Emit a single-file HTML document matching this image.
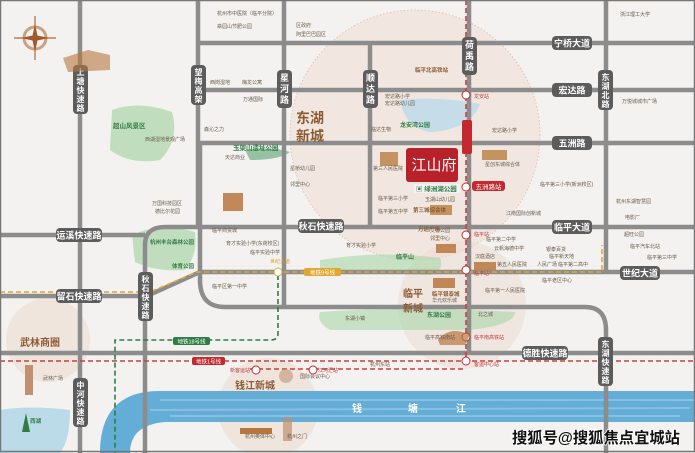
<!DOCTYPE html>
<html><head><meta charset="utf-8"><style>
html,body{margin:0;padding:0;background:#f3f2f0}
svg{display:block}
text{font-family:"Liberation Sans","Noto Sans CJK SC",sans-serif}
.rl{fill:#fff;font-size:9px;font-weight:bold}
.vl{fill:#fff;font-size:8px;font-weight:bold}
.poi{fill:#6a5a4a;font-size:5px}
.red{fill:#c23a3a;font-size:5px}
</style></head><body>
<svg width="695" height="453" viewBox="0 0 695 453" xmlns="http://www.w3.org/2000/svg">
<rect x="0" y="0" width="695" height="453" fill="#f3f2f0"/>
<circle cx="415" cy="135" r="125" fill="#efd9cc" fill-opacity="0.45" stroke="#e6b9a0" stroke-dasharray="1.5 2" stroke-width="0.8"/>
<circle cx="462" cy="305" r="64" fill="#eedad0" fill-opacity="0.5"/>
<circle cx="48" cy="340" r="42" fill="#ecdcd0" fill-opacity="0.6"/>
<circle cx="268" cy="408" r="50" fill="#ecdcd0" fill-opacity="0.6"/>
<path d="M112 110 Q140 100 172 112 Q180 140 160 160 Q130 165 110 150 Z" fill="#a9d6a7" opacity="0.7"/>
<path d="M132 235 Q160 222 195 232 Q198 255 185 270 Q155 272 135 262 Z" fill="#a9d6a7" opacity="0.7"/>
<path d="M320 260 Q380 250 440 258 Q445 270 430 275 L320 272 Z" fill="#a9d6a7" opacity="0.6"/>
<path d="M320 312 Q400 306 515 312 Q515 325 470 330 L330 330 Q316 322 320 312Z" fill="#a9d6a7" opacity="0.6"/>
<path d="M245 150 Q270 146 290 152 Q280 160 250 160 Z" fill="#5aa070" opacity="0.6"/>
<path d="M400 100 Q440 96 480 104 Q470 130 430 132 Q405 128 400 100 Z" fill="#bcd9ea" opacity="0.8"/>
<path d="M0 410 Q30 405 70 410 Q70 440 60 453 L0 453 Z" fill="#bcdbe9"/>
<path d="M100 453 Q100 391 160 391 L695 391 L695 422 L165 422 Q130 425 130 453 Z" fill="#63add6"/>
<path d="M160 400 L695 400 M150 410 L690 408 M170 416 L680 416" stroke="#9fcde8" stroke-width="2" opacity="0.6"/>
<g stroke="#8c8c8c" stroke-width="4.5" fill="none">
<path d="M80 0 V453"/>
<path d="M198 0 V225"/>
<path d="M284 0 V307"/>
<path d="M370 42 V227"/>
<path d="M469 0 V353"/>
<path d="M606 0 V273"/>
<path d="M198 43 H695 M198 90 H695 M198 143 H695"/>
<path d="M145 453 V245 Q145 227 165 227 H695"/>
<path d="M0 235 H145 M0 296 H145"/>
<path d="M147 296 L200 272 H695"/>
<path d="M200 145 V280 Q200 307 225 307 H585 Q606 307 606 330 V453"/>
<path d="M0 353 H695"/>
</g>
<g fill="none" stroke-width="1.6">
<path d="M466 0 V365" stroke="#c94040" stroke-dasharray="5 3"/>
<path d="M0 361 H695" stroke="#c94040" stroke-dasharray="5 3"/>
<path d="M250 369 H466" stroke="#c94040" stroke-dasharray="5 3"/>
<path d="M0 292 H150 L197 272 H602 V245" stroke="#e0a830" stroke-dasharray="5 3"/>
<path d="M278 275 V334 Q278 340 270 340 H115 V453" stroke="#2f7d45" stroke-dasharray="5 3"/>
</g>
<g>
<rect x="73" y="65" width="15" height="49" rx="4" fill="#5c5c5c"/><text class="vl" x="80.5" y="75" text-anchor="middle">上</text><text class="vl" x="80.5" y="84" text-anchor="middle">塘</text><text class="vl" x="80.5" y="93" text-anchor="middle">快</text><text class="vl" x="80.5" y="102" text-anchor="middle">速</text><text class="vl" x="80.5" y="111" text-anchor="middle">路</text>
<rect x="191" y="65" width="15" height="40" rx="4" fill="#5c5c5c"/><text class="vl" x="198.5" y="75" text-anchor="middle">望</text><text class="vl" x="198.5" y="84" text-anchor="middle">梅</text><text class="vl" x="198.5" y="93" text-anchor="middle">高</text><text class="vl" x="198.5" y="102" text-anchor="middle">架</text>
<rect x="277" y="70" width="15" height="38" rx="4" fill="#5c5c5c"/><text class="rl" x="284.5" y="81" text-anchor="middle">星</text><text class="rl" x="284.5" y="92" text-anchor="middle">河</text><text class="rl" x="284.5" y="103" text-anchor="middle">路</text>
<rect x="363" y="70" width="15" height="38" rx="4" fill="#5c5c5c"/><text class="rl" x="370.5" y="81" text-anchor="middle">顺</text><text class="rl" x="370.5" y="92" text-anchor="middle">达</text><text class="rl" x="370.5" y="103" text-anchor="middle">路</text>
<rect x="462" y="37" width="15" height="38" rx="4" fill="#5c5c5c"/><text class="rl" x="469.5" y="48" text-anchor="middle">荷</text><text class="rl" x="469.5" y="59" text-anchor="middle">禹</text><text class="rl" x="469.5" y="70" text-anchor="middle">路</text>
<rect x="598" y="70" width="15" height="40" rx="4" fill="#5c5c5c"/><text class="vl" x="605.5" y="80" text-anchor="middle">东</text><text class="vl" x="605.5" y="89" text-anchor="middle">湖</text><text class="vl" x="605.5" y="98" text-anchor="middle">北</text><text class="vl" x="605.5" y="107" text-anchor="middle">路</text>
<rect x="552" y="36" width="40" height="14" rx="4" fill="#5c5c5c"/><text class="rl" x="572" y="46.5" text-anchor="middle">宁桥大道</text>
<rect x="552" y="83" width="40" height="14" rx="4" fill="#5c5c5c"/><text class="rl" x="572" y="93.5" text-anchor="middle">宏达路</text>
<rect x="552" y="136" width="40" height="14" rx="4" fill="#5c5c5c"/><text class="rl" x="572" y="146.5" text-anchor="middle">五洲路</text>
<rect x="552" y="220" width="40" height="14" rx="4" fill="#5c5c5c"/><text class="rl" x="572" y="230.5" text-anchor="middle">临平大道</text>
<rect x="620" y="266" width="40" height="14" rx="4" fill="#5c5c5c"/><text class="rl" x="640" y="276.5" text-anchor="middle">世纪大道</text>
<rect x="522" y="346" width="46" height="14" rx="4" fill="#5c5c5c"/><text class="rl" x="545" y="356.5" text-anchor="middle">德胜快速路</text>
<rect x="598" y="337" width="15" height="49" rx="4" fill="#5c5c5c"/><text class="vl" x="605.5" y="347" text-anchor="middle">东</text><text class="vl" x="605.5" y="356" text-anchor="middle">湖</text><text class="vl" x="605.5" y="365" text-anchor="middle">快</text><text class="vl" x="605.5" y="374" text-anchor="middle">速</text><text class="vl" x="605.5" y="383" text-anchor="middle">路</text>
<rect x="298" y="219" width="46" height="14" rx="4" fill="#5c5c5c"/><text class="rl" x="321" y="229.5" text-anchor="middle">秋石快速路</text>
<rect x="56" y="228" width="46" height="14" rx="4" fill="#5c5c5c"/><text class="rl" x="79" y="238.5" text-anchor="middle">运溪快速路</text>
<rect x="56" y="289" width="46" height="14" rx="4" fill="#5c5c5c"/><text class="rl" x="79" y="299.5" text-anchor="middle">留石快速路</text>
<rect x="138" y="272" width="15" height="49" rx="4" fill="#5c5c5c"/><text class="vl" x="145.5" y="282" text-anchor="middle">秋</text><text class="vl" x="145.5" y="291" text-anchor="middle">石</text><text class="vl" x="145.5" y="300" text-anchor="middle">快</text><text class="vl" x="145.5" y="309" text-anchor="middle">速</text><text class="vl" x="145.5" y="318" text-anchor="middle">路</text>
<rect x="73" y="378" width="15" height="49" rx="4" fill="#5c5c5c"/><text class="vl" x="80.5" y="388" text-anchor="middle">中</text><text class="vl" x="80.5" y="397" text-anchor="middle">河</text><text class="vl" x="80.5" y="406" text-anchor="middle">快</text><text class="vl" x="80.5" y="415" text-anchor="middle">速</text><text class="vl" x="80.5" y="424" text-anchor="middle">路</text>
</g>
<rect x="173" y="337" width="37" height="8" rx="2" fill="#2f7d45"/><text x="191.5" y="343.5" text-anchor="middle" fill="#fff" font-size="5.5">地铁18号线</text>
<rect x="192" y="357" width="33" height="8" rx="2" fill="#c22a30"/><text x="208.5" y="363.5" text-anchor="middle" fill="#fff" font-size="5.5">地铁1号线</text>
<rect x="304" y="268" width="37" height="8" rx="2" fill="#e0a830"/><text x="322.5" y="274.5" text-anchor="middle" fill="#fff" font-size="5.5">地铁9号线</text>
<rect x="462" y="120" width="10" height="34" rx="2" fill="#c22a30"/>
<rect x="472" y="181" width="33" height="10" rx="3" fill="#c22a30"/><text x="488.5" y="189" text-anchor="middle" fill="#fff" font-size="6.5">五洲路站</text>
<g fill="#fff" stroke="#c22a30" stroke-width="1"><circle cx="466" cy="95" r="4"/><circle cx="466" cy="187" r="4"/><circle cx="466" cy="235" r="4"/><circle cx="466" cy="270" r="4"/><circle cx="466" cy="337" r="4"/><circle cx="466" cy="361" r="4"/><circle cx="256" cy="370" r="4"/><circle cx="313" cy="370" r="4"/><circle cx="278" cy="272" r="4" stroke="#e0a830"/></g>
<rect x="406" y="148" width="52" height="34" rx="3" fill="#b8202a"/>
<text x="434" y="170" text-anchor="middle" fill="#fff" font-size="15">江山府</text>
<rect x="414" y="184" width="46" height="9" fill="#f3f2f0"/><text x="416" y="191" fill="#2f7d45" font-size="6.5" font-weight="bold">▣ 绿洲湖公园</text>
<text x="296" y="123" fill="#8b5a33" font-size="14" font-weight="bold">东湖</text>
<text x="296" y="141" fill="#8b5a33" font-size="14" font-weight="bold">新城</text>
<text x="403" y="297" fill="#8b5a33" font-size="10" font-weight="bold">临平</text>
<text x="403" y="312" fill="#8b5a33" font-size="10" font-weight="bold">新城</text>
<text x="20" y="346" fill="#8b5a33" font-size="10" font-weight="bold">武林商圈</text>
<text x="235" y="389" fill="#8b5a33" font-size="10" font-weight="bold">钱江新城</text>
<text x="352" y="412" fill="#fff" font-size="10" font-weight="bold">钱</text><text x="408" y="412" fill="#fff" font-size="10" font-weight="bold">塘</text><text x="456" y="412" fill="#fff" font-size="10" font-weight="bold">江</text>
<text x="113" y="128" fill="#2f7d45" font-size="6.5" font-weight="bold">超山风景区</text>
<text x="233" y="150" fill="#2f7d45" font-size="6.5" font-weight="bold">玉架山遗址公园</text>
<text x="400" y="127" fill="#2f7d45" font-size="6" font-weight="bold">龙安湾公园</text>
<text x="150" y="244" fill="#2f7d45" font-size="5.5" font-weight="bold">杭州丰台森林公园</text>
<text x="172" y="268" fill="#2f7d45" font-size="5.5" font-weight="bold">体育公园</text>
<text x="396" y="259" fill="#2f7d45" font-size="6" font-weight="bold">临平山</text>
<text x="427" y="317" fill="#2f7d45" font-size="6" font-weight="bold">东湖公园</text>
<text x="30" y="423" fill="#2f7d45" font-size="5.5" font-weight="bold">西湖</text>
<rect x="223" y="193" width="20" height="18" fill="#b8763e" opacity="0.85"/>
<rect x="380" y="152" width="18" height="14" fill="#b8803e" opacity="0.8"/>
<rect x="482" y="150" width="25" height="10" fill="#b8803e" opacity="0.8"/>
<rect x="430" y="205" width="22" height="10" fill="#b8803e" opacity="0.8"/>
<rect x="436" y="244" width="20" height="9" fill="#b8763e" opacity="0.85"/>
<rect x="433" y="278" width="22" height="10" fill="#b8763e" opacity="0.85"/>
<rect x="474" y="262" width="22" height="8" fill="#b8763e" opacity="0.85"/>
<path d="M63 58 L88 50 L110 55 L110 70 L68 72 Z" fill="#b8763e" opacity="0.6"/>
<path d="M438 340 Q450 325 470 335 L465 345 L440 345Z" fill="#b8763e" opacity="0.7"/>
<rect x="25" y="365" width="8" height="30" fill="#c09070"/>
<path d="M22 432 L26 413 L30 432 Z" fill="#2f7d45"/>
<circle cx="286" cy="376" r="7" fill="#c9a080" opacity="0.7"/>
<rect x="240" y="428" width="32" height="6" fill="#b8763e"/>
<rect x="283" y="417" width="9" height="24" fill="#c09070" opacity="0.7"/>
<g stroke="#b06a3a" fill="none"><circle cx="35" cy="38" r="11" stroke-width="3" stroke-opacity="0.6"/><path d="M14 38 H56 M35 16 V60" stroke-width="1.2"/></g>
<path d="M35 24 L38 38 L35 52 L32 38 Z M21 38 L35 35 L49 38 L35 41Z" fill="#a05a2a"/>
<g class="poi">
<text x="217" y="15">杭州市中医院（临平分院）</text><text x="217" y="28">皋园山节肥公园</text>
<text x="296" y="27">区政府</text><text x="296" y="36">阿里巴巴园区</text>
<text x="210" y="84">西岗湿地</text><text x="242" y="84">梅龙公寓</text><text x="243" y="101">万通国际</text>
<text x="145" y="141">西湖湿地景观广场</text><text x="204" y="131">森沁之力</text><text x="225" y="159">天达商业</text>
<text x="290" y="170">星桥幼儿园</text><text x="290" y="186">邻里中心</text><text x="152" y="205">万国科技园区</text><text x="155" y="213">德比尔花园</text>
<text x="385" y="98">宏达路小学</text><text x="385" y="105">宏达路幼儿园</text><text x="371" y="131">临达生物</text><text x="492" y="132">宏达路小学</text>
<text x="373" y="170">第三人民医院</text><text x="485" y="166">星创东城综合体</text><text x="540" y="186">临平第三小学(新洲校区)</text>
<text x="378" y="200">临平第三小学</text><text x="425" y="201">玉湖山幼儿园</text><text x="378" y="213">临平第五中学</text><text x="506" y="215">江南国际创新城</text>
<text x="620" y="16">浙江理工大学</text><text x="622" y="103">万悦城城市广场</text><text x="616" y="203">杭州东湖智慧园</text><text x="625" y="219">电影厂</text>
<text x="212" y="232">临平商贸城</text><text x="226" y="245">育才实验小学(东荷校区)</text><text x="250" y="254">临平实验中学</text><text x="212" y="288">临平区第一中学</text>
<text x="346" y="247">育才实验小学</text><text x="430" y="232">艾德公园</text><text x="430" y="240">邻里中心</text>
<text x="486" y="241">临平第二中学</text><text x="494" y="250">云帆海德中学</text><text x="475" y="258">汉庭酒店</text><text x="497" y="266">第五人民医院</text>
<text x="546" y="251">银泰百货</text><text x="549" y="258">临平新天地</text><text x="537" y="266">人民广场</text><text x="558" y="266">临平第二高中</text>
<text x="624" y="236">超旺公园</text><text x="630" y="248">临平汽车北站</text><text x="647" y="259">临平第三中学</text>
<text x="542" y="282">临平老区中心</text><text x="485" y="292">临平第一人民医院</text><text x="432" y="302">华元欢乐城</text>
<text x="345" y="320">东湖小镇</text><text x="478" y="316">北之城</text><text x="425" y="339">临平高铁南站</text>
<text x="43" y="380">武林广场</text><text x="300" y="378">国际会议中心</text><text x="245" y="438">杭州奥体中心</text><text x="287" y="438">杭州之门</text><text x="370" y="366">杭州东站</text>
</g>
<g class="red"><text x="474" y="98">龙安站</text><text x="474" y="236">临平站</text><text x="474" y="275">临平站</text><text x="474" y="339">临平南高铁站</text><text x="474" y="366">客运中心站</text><text x="230" y="372">新客运站</text><text x="318" y="372">江河汇站</text><text x="270" y="263" fill="#d8a030">世纪大道</text></g>
<text x="415" y="72" fill="#8b5a33" font-size="5.5" font-weight="bold">临平北高铁站</text>
<text x="418" y="231" fill="#8b5a33" font-size="5.5" font-weight="bold">万达广场</text>
<text x="432" y="296" fill="#8b5a33" font-size="5.5" font-weight="bold">临平银泰城</text>
<text x="413" y="212" fill="#8b5a33" font-size="5.5" font-weight="bold">第三城综合体</text>
<text x="512" y="443" font-size="15.5" font-weight="bold" fill="#111" stroke="#fff" stroke-width="1.5" paint-order="stroke" textLength="168" lengthAdjust="spacingAndGlyphs">搜狐号@搜狐焦点宜城站</text>
<rect x="0.5" y="0.5" width="694" height="451" fill="none" stroke="#777" stroke-width="1.5"/>
</svg>
</body></html>
